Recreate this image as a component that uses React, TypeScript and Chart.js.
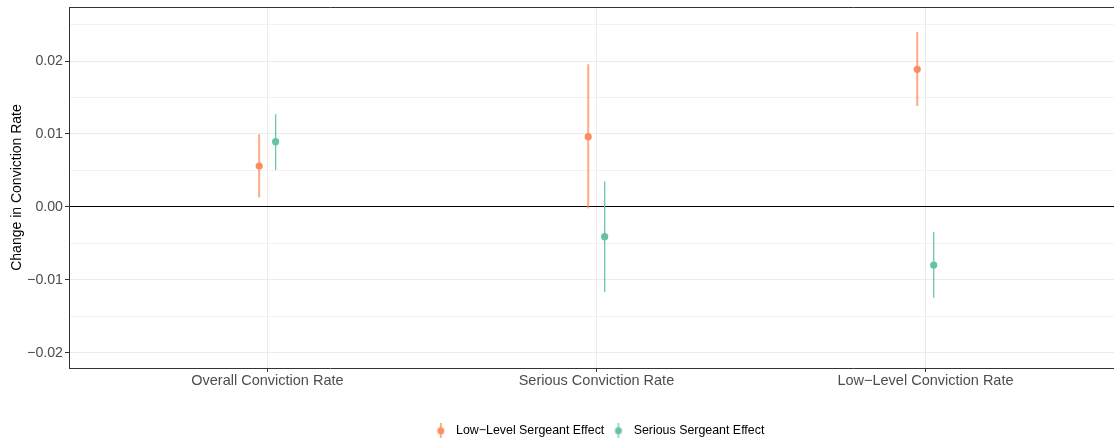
import React, { useEffect, useRef } from 'react';
import { Chart, registerables } from 'chart.js';

Chart.register(...registerables);

const categories = ['Overall Conviction Rate', 'Serious Conviction Rate', 'Low\u2212Level Conviction Rate'];
const seriesNames = ['Low\u2212Level Sergeant Effect', 'Serious Sergeant Effect'];
const seriesColors = ['#FC8D62', '#66C2A5'];
const barColors = ['rgba(252,141,98,0.75)', 'rgba(102,194,165,0.95)'];

const lowLevelEstimate = [0.0056, 0.00964, 0.01886];
const lowLevelLower = [0.0013, -0.0002, 0.01384];
const lowLevelUpper = [0.00996, 0.01955, 0.02397];

const seriousEstimate = [0.00895, -0.00407, -0.00795];
const seriousLower = [0.00507, -0.01164, -0.01242];
const seriousUpper = [0.0127, 0.00352, -0.00342];

const yTicks = [-0.02, -0.015, -0.01, -0.005, 0, 0.005, 0.01, 0.015, 0.02, 0.025];
const yMajorTicks = [-0.02, -0.01, 0, 0.01, 0.02];
const yMin = -0.02206;
const yMax = 0.0274;
const xMin = 0.397;
const xMax = 3.573;
const dodge = 0.025;

const FONT = '"Liberation Sans", Arial, Helvetica, sans-serif';

function errorBarData(lower: number[], upper: number[], offset: number) {
  const out: any[] = [];
  lower.forEach((lo, i) => {
    const x = i + 1 + offset;
    out.push({ x, y: lo });
    out.push({ x, y: upper[i] });
    out.push({ x, y: null });
  });
  return out;
}

function pointData(est: number[], offset: number) {
  return est.map((y, i) => ({ x: i + 1 + offset, y }));
}

function legendIcon(color: string, lineColor: string, lineW: number) {
  const c = document.createElement('canvas');
  c.width = 10;
  c.height = 15;
  const g = c.getContext('2d')!;
  g.strokeStyle = lineColor;
  g.lineWidth = lineW;
  g.beginPath();
  g.moveTo(5, 0);
  g.lineTo(5, 15);
  g.stroke();
  g.fillStyle = color;
  g.beginPath();
  g.arc(5, 7.5, 3.5, 0, Math.PI * 2);
  g.fill();
  return c;
}

const legendShift = {
  id: 'legendShift',
  afterLayout(chart: any) {
    const l = chart.legend;
    if (l) {
      l.left += 41;
      l.right += 41;
      l.top += 4;
      l.bottom += 4;
    }
  },
};

export default function App() {
  const ref = useRef<HTMLCanvasElement | null>(null);

  useEffect(() => {
    document.body.style.margin = '0';
    Chart.defaults.font.family = FONT;
    const icons = [
      legendIcon(seriesColors[0], barColors[0], 2),
      legendIcon(seriesColors[1], barColors[1], 1.3),
    ];
    const chart = new Chart(ref.current!, {
      type: 'scatter',
      plugins: [legendShift],
      data: {
        datasets: [
          {
            type: 'line',
            label: seriesNames[0] + ' CI',
            data: errorBarData(lowLevelLower, lowLevelUpper, -dodge),
            borderColor: barColors[0],
            borderWidth: 2,
            pointRadius: 0,
            showLine: true,
            spanGaps: false,
            fill: false,
            order: 2,
          } as any,
          {
            type: 'line',
            label: seriesNames[1] + ' CI',
            data: errorBarData(seriousLower, seriousUpper, dodge),
            borderColor: barColors[1],
            borderWidth: 1.3,
            pointRadius: 0,
            showLine: true,
            spanGaps: false,
            fill: false,
            order: 2,
          } as any,
          {
            label: seriesNames[0],
            data: pointData(lowLevelEstimate, -dodge),
            backgroundColor: seriesColors[0],
            borderWidth: 0,
            pointRadius: 3.6,
            order: 0,
          },
          {
            label: seriesNames[1],
            data: pointData(seriousEstimate, dodge),
            backgroundColor: seriesColors[1],
            borderWidth: 0,
            pointRadius: 3.6,
            order: 0,
          },
        ],
      },
      options: {
        responsive: false,
        animation: false,
        layout: { autoPadding: false, padding: { top: 7, left: 0, right: 0, bottom: 0 } },
        plugins: {
          tooltip: { enabled: false },
          legend: {
            display: true,
            position: 'bottom',
            labels: {
              usePointStyle: true,
              pointStyleWidth: 18.2,
              padding: 5,
              color: '#000',
              font: { size: 12.4, family: FONT },
              generateLabels: () =>
                seriesNames.map((name, i) => ({
                  text: name,
                  pointStyle: icons[i] as any,
                  fillStyle: seriesColors[i],
                  strokeStyle: seriesColors[i],
                  lineWidth: 0,
                  hidden: false,
                  datasetIndex: i + 2,
                })),
            },
          },
        },
        scales: {
          x: {
            type: 'linear',
            position: 'bottom',
            min: xMin,
            max: xMax,
            afterBuildTicks: (s: any) => {
              s.ticks = categories.map((_, i) => ({ value: i + 1 }));
            },
            afterFit: (s: any) => {
              const lh = s.chart.legend ? s.chart.legend.height : 0;
              s.height = 443 - 368 - lh;
              s.paddingLeft = 0;
              s.paddingRight = 0;
            },
            ticks: {
              color: '#4D4D4D',
              font: { size: 14.5, family: FONT },
              padding: 0,
              maxRotation: 0,
              autoSkip: false,
              callback: (v: any) => categories[Math.round(v) - 1],
            },
            grid: {
              color: '#EBEBEB',
              lineWidth: 1,
              tickLength: 4,
              tickColor: '#333333',
            },
            border: { display: true, color: '#333333', width: 1 },
          },
          xTop: {
            type: 'linear',
            position: 'top',
            min: xMin,
            max: xMax,
            afterFit: (s: any) => {
              s.height = 0;
              s.paddingLeft = 0;
              s.paddingRight = 0;
            },
            ticks: { display: false },
            grid: { drawOnChartArea: false, drawTicks: false },
            border: { display: true, color: '#333333', width: 1 },
          },
          y: {
            type: 'linear',
            min: yMin,
            max: yMax,
            afterBuildTicks: (s: any) => {
              s.ticks = yTicks.map((v) => ({ value: v }));
            },
            afterFit: (s: any) => {
              s.width = 69;
              s.paddingTop = 0;
              s.paddingBottom = 0;
            },
            ticks: {
              color: '#4D4D4D',
              font: { size: 14.2, family: FONT },
              padding: 2,
              autoSkip: false,
              callback: (v: any) => {
                const n = Number(v);
                const major = yMajorTicks.some((m) => Math.abs(m - n) < 1e-9);
                if (!major) return '';
                return Math.abs(n) < 1e-9 ? '0.00' : n.toFixed(2).replace('-', '\u2212');
              },
            },
            grid: {
              color: (ctx: any) => {
                const n = ctx.tick ? ctx.tick.value : 1;
                if (Math.abs(n) < 1e-9) return '#000000';
                const major = yMajorTicks.some((m) => Math.abs(m - n) < 1e-9);
                return major ? '#EBEBEB' : '#F2F2F2';
              },
              lineWidth: 1,
              tickLength: 4,
              tickColor: (ctx: any) => {
                const n = ctx.tick ? ctx.tick.value : 1;
                const major = yMajorTicks.some((m) => Math.abs(m - n) < 1e-9);
                return major ? '#333333' : 'rgba(0,0,0,0)';
              },
            },
            border: { display: true, color: '#333333', width: 1 },
            title: {
              display: true,
              text: 'Change in Conviction Rate',
              color: '#000000',
              font: { size: 14, family: FONT },
              padding: { top: 9, bottom: 0 },
            },
          },
        },
      },
    });
    return () => chart.destroy();
  }, []);

  return (
    <div style={{ width: 1114, height: 443 }}>
      <canvas ref={ref} width={1114} height={443} style={{ display: 'block' }} />
    </div>
  );
}
